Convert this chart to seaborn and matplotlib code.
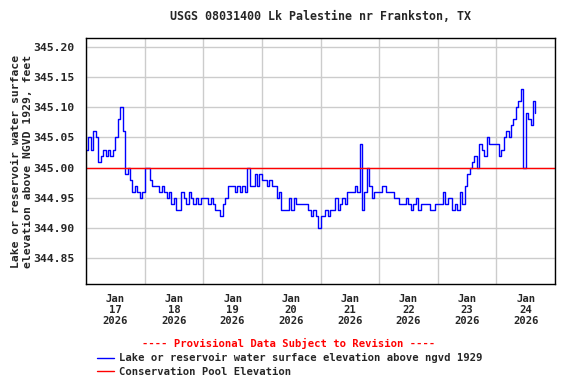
import numpy as np
import pandas as pd
import matplotlib
matplotlib.use("Agg")
import matplotlib.pyplot as plt
import matplotlib.dates as mdates
import seaborn as sns

# -----------------------------
# Data (hourly gage height, feet above NGVD 1929)
# -----------------------------
jan17 = [345.03, 345.05, 345.03, 345.06, 345.05, 345.01, 345.02, 345.03,
         345.02, 345.03, 345.02, 345.03, 345.05, 345.08, 345.10, 345.06,
         344.99, 345.00, 344.98, 344.96, 344.97, 344.96, 344.95, 344.96]
jan18 = [345.00, 345.00, 344.98, 344.97, 344.97, 344.97, 344.96, 344.97,
         344.96, 344.95, 344.96, 344.94, 344.95, 344.93, 344.93, 344.96,
         344.95, 344.94, 344.96, 344.95, 344.94, 344.95, 344.94, 344.95]
jan19 = [344.95, 344.95, 344.94, 344.95, 344.94, 344.93, 344.93, 344.92,
         344.94, 344.95, 344.97, 344.97, 344.97, 344.96, 344.97, 344.96,
         344.97, 344.96, 345.00, 344.97, 344.97, 344.99, 344.97, 344.99]
jan20 = [344.98, 344.98, 344.97, 344.98, 344.97, 344.97, 344.95, 344.96,
         344.93, 344.93, 344.93, 344.95, 344.93, 344.95, 344.94, 344.94,
         344.94, 344.94, 344.94, 344.93, 344.92, 344.93, 344.92, 344.90]
jan21 = [344.92, 344.92, 344.93, 344.92, 344.93, 344.93, 344.95, 344.93,
         344.94, 344.95, 344.94, 344.96, 344.96, 344.96, 344.97, 344.96,
         345.04, 344.93, 344.96, 345.00, 344.97, 344.95, 344.96, 344.96]
jan22 = [344.96, 344.97, 344.97, 344.96, 344.96, 344.96, 344.95, 344.95,
         344.94, 344.94, 344.94, 344.95, 344.94, 344.93, 344.94, 344.95,
         344.93, 344.94, 344.94, 344.94, 344.94, 344.93, 344.93, 344.94]
jan23 = [344.94, 344.94, 344.96, 344.94, 344.95, 344.95, 344.93, 344.94,
         344.93, 344.96, 344.94, 344.97, 344.99, 345.00, 345.01, 345.02,
         345.00, 345.04, 345.03, 345.02, 345.05, 345.04, 345.04, 345.04]
jan24 = [345.04, 345.02, 345.03, 345.05, 345.06, 345.05, 345.07, 345.08,
         345.10, 345.11, 345.13, 345.00, 345.09, 345.08, 345.07, 345.11,
         345.09]

pool_elevation = 345.00
title = "USGS 08031400 Lk Palestine nr Frankston, TX"
ylabel = "Lake or reservoir water surface\nelevation above NGVD 1929, feet"
series_label = "Lake or reservoir water surface elevation above ngvd 1929"
pool_label = "Conservation Pool Elevation"
yticks = [344.85, 344.90, 344.95, 345.00, 345.05, 345.10, 345.15, 345.20]

values = jan17 + jan18 + jan19 + jan20 + jan21 + jan22 + jan23 + jan24
df = pd.DataFrame({
    "time": pd.date_range("2026-01-17 00:00", periods=len(values), freq="h"),
    "elev": values,
})

# -----------------------------
# Plot
# -----------------------------
sns.set_style("white")
plt.rcParams["font.family"] = ["DejaVu Sans Mono"]
plt.rcParams["font.weight"] = "bold"

fig = plt.figure(figsize=(5.76, 3.84), dpi=100)
ax = fig.add_axes([86 / 576, 1 - 284 / 384, (555 - 86) / 576, (284 - 38) / 384])

sns.lineplot(data=df, x="time", y="elev", ax=ax, color="#0000ff", lw=1.0,
             drawstyle="steps-post", estimator=None, label=series_label)
ax.axhline(pool_elevation, color="#ff0000", lw=1.0, label=pool_label)

ax.set_xlim(pd.Timestamp("2026-01-17"), pd.Timestamp("2026-01-25"))
ax.set_ylim(344.807, 345.215)

ax.set_yticks(yticks)
ax.set_yticklabels([f"{v:.2f}" for v in yticks], fontsize=8.2, fontweight="bold")
ax.xaxis.set_major_locator(mdates.DayLocator())
ax.xaxis.set_major_formatter(plt.NullFormatter())
ax.xaxis.set_minor_locator(mdates.HourLocator(byhour=[12]))
ax.xaxis.set_minor_formatter(mdates.DateFormatter("%b\n%d\n%Y"))
ax.tick_params(axis="x", which="both", length=0, pad=7)
ax.tick_params(axis="x", which="minor", labelsize=7.6)
ax.tick_params(axis="y", length=0, pad=8)
for lbl in ax.xaxis.get_minorticklabels():
    lbl.set_fontweight("bold")
    lbl.set_linespacing(1.15)

ax.grid(True, which="major", color="#cccccc", lw=1.0)
ax.set_axisbelow(True)
for s in ax.spines.values():
    s.set_color("black")
    s.set_linewidth(1.0)

ax.set_xlabel("")
ax.set_ylabel(ylabel, fontsize=8.2, fontweight="bold", labelpad=0.5, linespacing=1.25)
ax.set_title(title, fontsize=8.4, fontweight="bold", pad=13)

ax.get_legend().remove()
handles, labels = ax.get_legend_handles_labels()
fig.legend(handles, labels, loc="upper left", bbox_to_anchor=(92 / 576, 1 - 348 / 384),
           frameon=False, prop={"size": 7.6, "weight": "bold"},
           handlelength=1.6, handletextpad=0.5, labelspacing=0.35, borderpad=0)
fig.text(289 / 576, 1 - 343 / 384, "---- Provisional Data Subject to Revision ----",
         color="#ff0000", ha="center", va="center", fontsize=7.6, fontweight="bold")

fig.savefig("out.png", dpi=100)
